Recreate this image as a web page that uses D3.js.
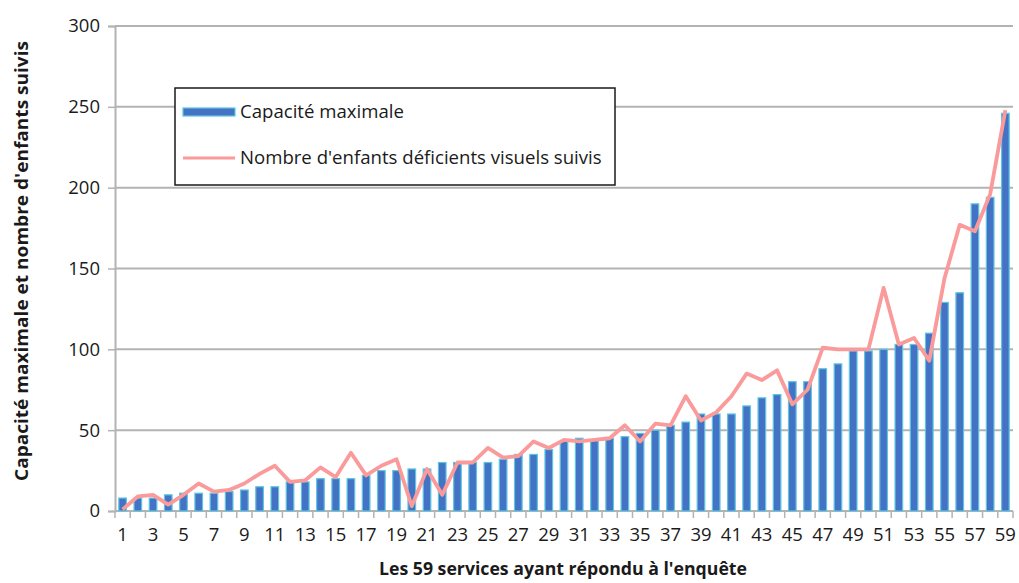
<!DOCTYPE html>
<html>
<head>
<meta charset="utf-8">
<script src="https://cdn.jsdelivr.net/npm/d3@7"></script>
<style>
  body { margin: 0; background: #fff; }
  text { font-family: "Open Sans", Lato, sans-serif; fill: #1a1a1a; }
  .tick-label { font-size: 18.5px; }
  .axis-title { font-size: 17px; font-weight: bold; }
  .legend-text { font-size: 18.6px; }
</style>
</head>
<body>
<div id="chart"></div>
<script>
// data
const services = d3.range(1, 60);
const capacite = [8, 8, 8, 10, 11, 11, 11, 12, 13, 15, 15, 18, 18, 20, 20, 20, 22, 25, 25, 26,
  26, 30, 30, 30, 30, 32, 35, 35, 38, 43, 45, 44, 45, 46, 48, 50, 53, 55, 60, 60,
  60, 65, 70, 72, 80, 80, 88, 91, 99, 99, 100, 103, 103, 110, 129, 135, 190, 194, 246];
const enfantsSuivis = [1, 9, 10, 4, 10, 17, 12, 13, 17, 23, 28, 18, 19, 27, 21, 36, 22, 28, 32, 3,
  26, 10, 30, 30, 39, 33, 34, 43, 39, 44, 43, 44, 45, 53, 43, 54, 53, 71, 56, 61,
  71, 85, 81, 87, 66, 75, 101, 100, 100, 100, 138, 103, 107, 93, 144, 177, 173, 196, 248];
const yTicks = [0, 50, 100, 150, 200, 250, 300];
const xLabels = services.filter(d => d % 2 === 1);
const seriesNames = ["Capacité maximale", "Nombre d'enfants déficients visuels suivis"];

// dimensions
const W = 1019, H = 583;
const margin = {top: 26, right: 6, bottom: 72, left: 115};
const width = W - margin.left - margin.right;
const height = H - margin.top - margin.bottom;

const svg = d3.select("#chart")
  .append("svg")
    .attr("width", W)
    .attr("height", H)
  .append("g")
    .attr("transform", `translate(${margin.left}, ${margin.top})`);

// scales
const xScale = d3.scaleBand()
  .domain(services)
  .range([0, width])
  .paddingInner(0.5)
  .paddingOuter(0.25);
const xBand = d3.scaleBand().domain(services).range([0, width]);

const yScale = d3.scaleLinear()
  .domain([0, 300])
  .range([height, 0]);

// grid lines
svg.append("g")
  .selectAll("line")
  .data(yTicks.filter(d => d > 0))
  .join("line")
    .attr("x1", 0)
    .attr("x2", width)
    .attr("y1", d => yScale(d))
    .attr("y2", d => yScale(d))
    .style("stroke", "#b3b3b3")
    .style("stroke-width", 2);

// y axis
const yAxis = svg.append("g")
  .call(d3.axisLeft(yScale).tickValues(yTicks).tickSize(7).tickPadding(8));
yAxis.select(".domain").style("stroke", "#b3b3b3").style("stroke-width", 2);
yAxis.selectAll(".tick line").style("stroke", "#b3b3b3").style("stroke-width", 1.5);
yAxis.selectAll(".tick text")
  .attr("class", "tick-label");
yAxis.attr("font-family", null).attr("font-size", null);

// x axis : ticks between categories
const xAxis = svg.append("g")
  .attr("transform", `translate(0, ${height})`);
xAxis.append("line")
  .attr("x1", 0).attr("x2", width)
  .style("stroke", "#b3b3b3").style("stroke-width", 2);
xAxis.selectAll(".xtick")
  .data(services.concat([60]))
  .join("line")
    .attr("class", "xtick")
    .attr("x1", d => d <= 59 ? xBand(d) : width)
    .attr("x2", d => d <= 59 ? xBand(d) : width)
    .attr("y1", 0)
    .attr("y2", 7)
    .style("stroke", "#b3b3b3")
    .style("stroke-width", 1.5);
xAxis.selectAll(".xlabel")
  .data(xLabels)
  .join("text")
    .attr("class", "tick-label")
    .attr("x", d => xBand(d) + xBand.bandwidth() / 2)
    .attr("y", 30)
    .attr("text-anchor", "middle")
  .text(d => d);

// bars
svg.append("g")
  .selectAll("rect")
  .data(capacite)
  .join("rect")
    .attr("x", (d, i) => xScale(services[i]))
    .attr("y", d => yScale(d))
    .attr("width", xScale.bandwidth())
    .attr("height", d => height - yScale(d))
    .style("fill", "#4472c4")
    .style("stroke", "#5cc6e0")
    .style("stroke-width", 1.2);

// line
const line = d3.line()
  .x((d, i) => xBand(services[i]) + xBand.bandwidth() / 2)
  .y(d => yScale(d));
svg.append("path")
  .datum(enfantsSuivis)
  .attr("d", line)
  .style("fill", "none")
  .style("stroke", "#fa9a9a")
  .style("stroke-width", 3.8)
  .style("stroke-linejoin", "round");

// legend
const legend = svg.append("g")
  .attr("transform", `translate(${175 - margin.left}, ${88 - margin.top})`);
legend.append("rect")
  .attr("width", 440)
  .attr("height", 97)
  .style("fill", "#fff")
  .style("stroke", "#1a1a1a")
  .style("stroke-width", 1.5);
legend.append("rect")
  .attr("x", 8).attr("y", 20)
  .attr("width", 52).attr("height", 8)
  .style("fill", "#4472c4")
  .style("stroke", "#5cc6e0")
  .style("stroke-width", 1.2);
legend.append("line")
  .attr("x1", 8).attr("x2", 60)
  .attr("y1", 70).attr("y2", 70)
  .style("stroke", "#fa9a9a")
  .style("stroke-width", 3);
legend.selectAll(".legend-text")
  .data(seriesNames)
  .join("text")
    .attr("class", "legend-text")
    .attr("x", 65)
    .attr("y", (d, i) => 30 + i * 46)
  .text(d => d);

// axis titles
svg.append("text")
  .attr("class", "axis-title")
  .attr("x", 563 - margin.left)
  .attr("y", height + 64)
  .attr("text-anchor", "middle")
  .attr("textLength", 368)
  .attr("lengthAdjust", "spacingAndGlyphs")
  .text("Les 59 services ayant répondu à l'enquête");

svg.append("text")
  .attr("class", "axis-title")
  .attr("transform", `translate(${28 - margin.left}, ${261 - margin.top}) rotate(-90)`)
  .attr("text-anchor", "middle")
  .style("font-size", "18.5px")
  .attr("textLength", 440)
  .attr("lengthAdjust", "spacingAndGlyphs")
  .text("Capacité maximale et nombre d'enfants suivis");
</script>
</body>
</html>
